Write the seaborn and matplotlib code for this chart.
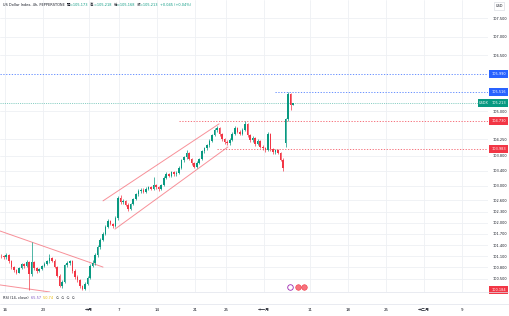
import matplotlib
matplotlib.use("Agg")
import matplotlib.pyplot as plt
import numpy as np
import pandas as pd
import seaborn as sns
from matplotlib.patches import Rectangle
from matplotlib.lines import Line2D
from matplotlib.transforms import blended_transform_factory

sns.set_theme(style="white")
plt.rcParams['font.family'] = ['DejaVu Sans', 'Noto Sans CJK TC']

# ---------------- data (4h-ish candles, index = trading-day thirds from 16 Sep) -------------
candle_idx = list(range(-2, 114))
closes = [101.10, 101.07, 101.13, 100.96, 100.81, 100.72, 100.66, 100.78, 100.88, 100.83,
          100.95, 100.62, 100.95, 100.78, 100.70, 100.76, 100.84, 100.90, 100.97, 101.05,
          100.98, 100.82, 100.58, 100.31, 100.42, 100.86, 100.92, 100.96, 100.71, 100.55,
          100.46, 100.30, 100.23, 100.36, 100.52, 100.84, 100.91, 101.13, 101.36, 101.55,
          101.71, 101.89, 102.05, 101.98, 101.91, 102.12, 102.68, 102.55, 102.59, 102.48,
          102.37, 102.50, 102.63, 102.77, 102.85, 102.89, 102.84, 102.91, 102.96, 102.92,
          103.01, 102.96, 102.90, 103.01, 103.21, 103.31, 103.27, 103.36, 103.30, 103.34,
          103.48, 103.68, 103.76, 103.88, 103.72, 103.60, 103.51, 103.62, 103.71, 103.92,
          104.00, 104.08, 104.21, 104.36, 104.50, 104.55, 104.38, 104.25, 104.18, 104.14,
          104.23, 104.40, 104.55, 104.45, 104.40, 104.50, 104.66, 104.36, 104.22, 104.28,
          104.12, 104.20, 104.05, 104.00, 103.95, 104.38, 103.98, 103.90, 103.95, 103.88,
          103.70, 103.48, 104.78, 105.45, 105.173, 105.213]
highs = [101.16, 101.14, 101.18, 101.15, 100.99, 100.84, 100.76, 100.82, 100.92, 100.93,
         100.99, 100.98, 101.48, 100.97, 100.81, 100.79, 100.87, 100.94, 101.00, 101.15,
         101.09, 101.02, 100.85, 100.62, 100.47, 100.90, 100.98, 101.00, 100.99, 100.75,
         100.60, 100.50, 100.34, 100.40, 100.56, 100.88, 100.99, 101.18, 101.40, 101.60,
         101.76, 101.93, 102.10, 102.08, 102.00, 102.18, 102.72, 102.74, 102.65, 102.62,
         102.52, 102.54, 102.67, 102.81, 102.90, 102.94, 102.93, 102.95, 103.00, 103.00,
         103.23, 103.05, 103.00, 103.05, 103.25, 103.36, 103.35, 103.40, 103.39, 103.38,
         103.52, 103.72, 103.80, 103.95, 103.91, 103.75, 103.63, 103.66, 103.75, 103.96,
         104.05, 104.12, 104.25, 104.40, 104.55, 104.60, 104.58, 104.41, 104.29, 104.22,
         104.27, 104.44, 104.59, 104.58, 104.49, 104.54, 104.73, 104.69, 104.40, 104.33,
         104.31, 104.24, 104.23, 104.09, 104.04, 104.45, 104.41, 104.02, 103.99, 103.98,
         103.91, 103.73, 104.82, 105.516, 105.49, 105.218]
lows = [101.05, 101.03, 101.04, 100.92, 100.77, 100.68, 100.62, 100.64, 100.75, 100.79,
        100.81, 100.20, 100.58, 100.74, 100.66, 100.67, 100.72, 100.80, 100.86, 100.93,
        100.94, 100.78, 100.54, 100.27, 100.26, 100.39, 100.82, 100.87, 100.66, 100.50,
        100.41, 100.25, 100.184, 100.20, 100.33, 100.49, 100.80, 100.86, 101.08, 101.30,
        101.50, 101.66, 101.85, 101.93, 101.86, 101.88, 102.08, 102.50, 102.51, 102.44,
        102.32, 102.34, 102.47, 102.60, 102.73, 102.81, 102.79, 102.80, 102.87, 102.88,
        102.89, 102.92, 102.85, 102.87, 102.98, 103.17, 103.22, 103.24, 103.26, 103.27,
        103.31, 103.45, 103.64, 103.72, 103.68, 103.56, 103.46, 103.48, 103.58, 103.68,
        103.88, 103.96, 104.04, 104.17, 104.32, 104.44, 104.33, 104.20, 104.13, 104.09,
        104.10, 104.20, 104.36, 104.41, 104.35, 104.36, 104.46, 104.31, 104.17, 104.18,
        104.07, 104.08, 104.00, 103.95, 103.90, 103.92, 103.93, 103.85, 103.86, 103.84,
        103.66, 103.40, 104.05, 104.74, 105.03, 105.168]
first_open = 101.12
gap_opens = {110: 104.15}

xtick_pos = [0, 15, 33, 45, 60, 75, 87, 102, 120, 135, 150, 165, 180]
xtick_labels = ['16', '23', '十月', '7', '14', '21', '25', '十一月', '11', '18', '25', '十二月', '9']
ytick_vals = [107.5, 107.0, 106.5, 105.0, 104.25, 103.8, 103.4, 103.0, 102.6, 102.3,
              102.0, 101.7, 101.4, 101.1, 100.8, 100.5]

# drawn trend lines (start index, start price, end index, end price)
trend_x0 = [-1.97, -1.97, 38.6, 43.3]
trend_y0 = [101.78, 100.33, 102.59, 101.83]
trend_x1 = [38.6, 17.7, 84.3, 87.8]
trend_y1 = [100.81, 100.14, 104.66, 104.04]

# horizontal levels
level_prices = [105.990, 105.516, 104.730, 103.983]
level_start = [-1.97, 106.3, 68.5, 83.5]
level_kind = ['blue', 'blue', 'red', 'red']
last_price = 105.213
low_tag = 100.184

event_x = [112.2, 115.4, 117.7]
event_y = [100.27, 100.27, 100.27]
event_kind = ['purple', 'red', 'red']

UP = '#089981'
DOWN = '#f23645'
BLUE = '#2962ff'
TXT = '#131722'

# ---------------- figure ----------------
W, H = 509, 316
fig = plt.figure(figsize=(W / 100, H / 100), dpi=100)
fig.patch.set_facecolor('white')
PANE_W = 488
PANE_BOTTOM = 292
ax = fig.add_axes([0, (H - PANE_BOTTOM) / H, PANE_W / W, PANE_BOTTOM / H])
ax.set_facecolor('white')
ax.set_xlim(-1.97, 190.2)
ax.set_ylim(100.14, 107.989)
for s in ax.spines.values():
    s.set_visible(False)

ax.set_yticks(ytick_vals, [f"{v:.3f}" for v in ytick_vals])
ax.yaxis.tick_right()
ax.tick_params(axis='y', length=0, pad=3.0, labelsize=2.5, labelcolor=TXT)
ax.set_xticks(xtick_pos, xtick_labels)
ax.tick_params(axis='x', length=0, pad=11.5, labelsize=2.9, labelcolor=TXT)
ax.grid(True, color='#eef0f4', lw=0.6)
ax.set_axisbelow(True)

# candles
df = pd.DataFrame({'i': candle_idx, 'close': closes, 'high': highs, 'low': lows})
opens = [first_open] + closes[:-1]
for k, v in gap_opens.items():
    opens[candle_idx.index(k)] = v
df['open'] = opens
df['x'] = df['i'] + 0.5
df['up'] = df['close'] >= df['open']
cols = np.where(df['up'], UP, DOWN)
ax.vlines(df['x'], df['low'], df['high'], colors=cols, lw=0.5, zorder=3)
body_h = (df['close'] - df['open']).abs().clip(lower=0.012)
body_b = df[['open', 'close']].min(axis=1)
ax.bar(df['x'], body_h, bottom=body_b, width=0.62, color=cols, lw=0, zorder=4)

# trend lines
for x0, y0, x1, y1 in zip(trend_x0, trend_y0, trend_x1, trend_y1):
    sns.lineplot(x=[x0, x1], y=[y0, y1], ax=ax, color=DOWN, alpha=0.55, lw=0.7, zorder=2)

# levels
for p, xs, kind in zip(level_prices, level_start, level_kind):
    c = BLUE if kind == 'blue' else DOWN
    ax.plot([xs, 190.2], [p, p], color=c, lw=0.7, ls=(0, (1.3, 1.6)), alpha=0.7, zorder=2)
ax.axhline(last_price, color=UP, lw=0.6, ls=(0, (1.3, 1.3)), alpha=0.55, zorder=2)

# events
for ex, ey, kind in zip(event_x, event_y, event_kind):
    if kind == 'purple':
        ax.scatter([ex], [ey], s=16, facecolor='white', edgecolor='#9c27b0', lw=0.6, zorder=6, clip_on=False)
    else:
        ax.scatter([ex], [ey], s=16, facecolor='#f7727c', edgecolor='#f23645', lw=0.4, zorder=6, clip_on=False)

# price-scale tags
trans = blended_transform_factory(ax.transAxes, ax.transData)
px_per_unit = PANE_BOTTOM / (107.989 - 100.14)
tag_h = 8 / px_per_unit


def tag(price, color, label, x0, x1):
    ax.add_patch(Rectangle((x0 / PANE_W, price - tag_h / 2), (x1 - x0) / PANE_W, tag_h,
                           transform=trans, color=color, clip_on=False, zorder=7, lw=0))
    ax.text((x0 + x1) / 2 / PANE_W, price, label, transform=trans, ha='center', va='center',
            fontsize=2.5, color='white', clip_on=False, zorder=8)


for p, kind in zip(level_prices, level_kind):
    tag(p, BLUE if kind == 'blue' else DOWN, f"{p:.3f}", 489, 508)
tag(last_price, UP, f"{last_price:.3f}", 489, 508)
tag(last_price, UP, "USDX", 478, 488.6)
tag(low_tag, DOWN, f"{low_tag:.3f}", 489, 508)

# separators
for yy in [PANE_BOTTOM, 304]:
    fig.add_artist(Line2D([0, 1], [1 - yy / H, 1 - yy / H], color='#e0e3eb', lw=0.5))

# USD box
fig.text(499 / W, 1 - 6 / H, "USD", fontsize=2.5, color=TXT, ha='center', va='center',
         bbox=dict(boxstyle='square,pad=0.5', fc='white', ec='#d1d4dc', lw=0.4))

# header and RSI legend
fig.canvas.draw()
rend = fig.canvas.get_renderer()


def seq_text(parts, x, y, size):
    for s, c in parts:
        t = fig.text(x / W, 1 - y / H, s, color=c, fontsize=size, ha='left', va='center')
        bb = t.get_window_extent(renderer=rend)
        x = bb.x1


seq_text([("US Dollar Index, 4h, PEPPERSTONE  ", TXT),
          ("開", TXT), ("=105.173  ", UP),
          ("高", TXT), ("=105.218  ", UP),
          ("低", TXT), ("=105.168  ", UP),
          ("收", TXT), ("=105.213  ", UP),
          ("+0.045 (+0.04%)", UP)], 3, 5, 2.5)
seq_text([("RSI (14, close)  ", TXT), ("65.57  ", '#7e57c2'), ("50.74  ", '#e8b800'),
          ("∅  ∅  ∅  ∅", TXT)], 3, 298, 2.5)

fig.savefig("out.png", dpi=100)
